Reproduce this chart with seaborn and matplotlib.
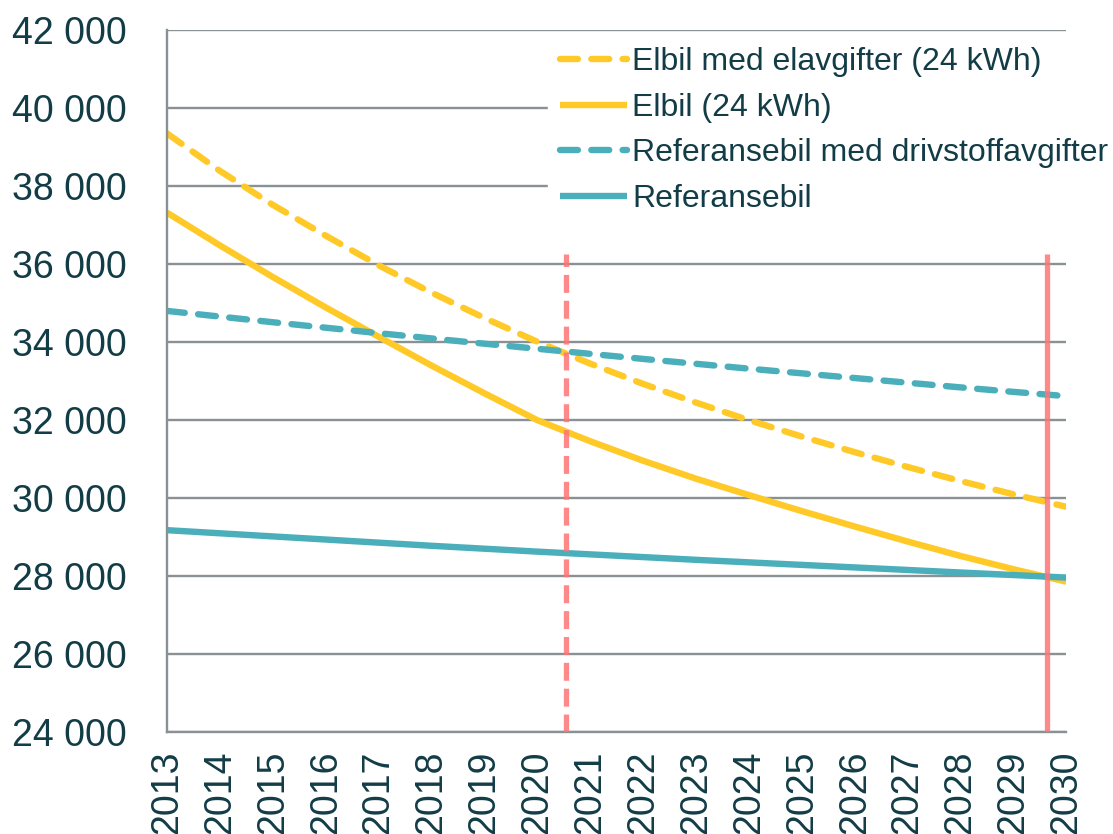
import matplotlib
matplotlib.use("Agg")
import matplotlib.pyplot as plt
import seaborn as sns
import pandas as pd
from matplotlib.ticker import FuncFormatter

# Årstall og verdier (lest av figuren)
years = list(range(2013, 2031))
elbil_avgift = [39350, 38390, 37520, 36730, 35970, 35270, 34620, 34010, 33450,
                32930, 32450, 32000, 31580, 31180, 30800, 30440, 30100, 29780]
elbil = [37320, 36480, 35670, 34890, 34140, 33400, 32690, 32000, 31460,
         30960, 30500, 30080, 29670, 29275, 28890, 28520, 28180, 27860]
ref_avgift = [34800, 34655, 34510, 34370, 34230, 34095, 33960, 33830, 33700,
              33570, 33445, 33320, 33200, 33080, 32960, 32840, 32725, 32615]
ref = [29180, 29100, 29020, 28940, 28860, 28780, 28705, 28630, 28560,
       28490, 28420, 28355, 28290, 28225, 28160, 28095, 28030, 27965]

labels = ["Elbil med elavgifter (24 kWh)", "Elbil (24 kWh)",
          "Referansebil med drivstoffavgifter", "Referansebil"]

# Vertikale markeringer
mark_dashed_x = 2020.54
mark_solid_x = 2029.63
mark_top = 36270

df = pd.DataFrame({"år": years, labels[0]: elbil_avgift, labels[1]: elbil,
                   labels[2]: ref_avgift, labels[3]: ref})

sns.set_style("white")
plt.rcParams["font.family"] = ["Liberation Sans", "DejaVu Sans"]

yellow = "#FFC927"
teal = "#4AAFBA"
grid_c = "#8A9194"
text_c = "#123C46"
red = "#FF7474"

fig = plt.figure(figsize=(11.13, 8.34), dpi=100)
ax = fig.add_axes([0.150, 0.122, 0.808, 0.842])

styles = [(yellow, True), (yellow, False), (teal, True), (teal, False)]
for lab, (col, dashed) in zip(labels, styles):
    sns.lineplot(data=df, x="år", y=lab, ax=ax, color=col, lw=4.6, label=lab)
    line = ax.get_lines()[-1]
    if dashed:
        line.set_dashes((2.8, 2.1))
        line.set_dash_capstyle("round")
    line.set_solid_capstyle("butt")

ax.vlines(mark_dashed_x, 24000, mark_top, color=red, lw=3.8, alpha=0.85,
          linestyles=(0, (3.4, 1.5)), zorder=5)
ax.vlines(mark_solid_x, 24000, mark_top, color=red, lw=3.8, alpha=0.85, zorder=5)

ax.set_xlim(2013, 2030)
ax.set_ylim(24000, 42000)
ax.set_xticks(years)
ax.set_xticklabels([str(y) for y in years], rotation=90)
ax.set_yticks(range(24000, 42001, 2000))
ax.yaxis.set_major_formatter(FuncFormatter(lambda v, p: f"{int(v):,}".replace(",", " ")))

ax.grid(axis="y", color=grid_c, lw=1.7)
ax.set_axisbelow(True)
ax.set_xlabel("")
ax.set_ylabel("")
for s in ["top", "right"]:
    ax.spines[s].set_visible(False)
for s in ["left", "bottom"]:
    ax.spines[s].set_color(grid_c)
    ax.spines[s].set_linewidth(1.7)
ax.tick_params(axis="both", direction="out", length=7.2, width=1.7, color=grid_c,
               labelsize=27, labelcolor=text_c)
ax.tick_params(axis="y", pad=22)
ax.tick_params(axis="x", pad=6)
for lbl in ax.get_xticklabels() + ax.get_yticklabels():
    lbl.set_clip_on(False)

leg = ax.legend(loc="upper left", bbox_to_anchor=(548 / 1113, 1 - 35 / 834),
                bbox_transform=fig.transFigure, frameon=True, fancybox=False,
                framealpha=1, edgecolor="white", fontsize=23, handlelength=2.1,
                handletextpad=0.16, labelspacing=0.49, borderpad=0.38, borderaxespad=0)
for t in leg.get_texts():
    t.set_color(text_c)
leg.set_zorder(10)

fig.savefig("out.png", dpi=100)
